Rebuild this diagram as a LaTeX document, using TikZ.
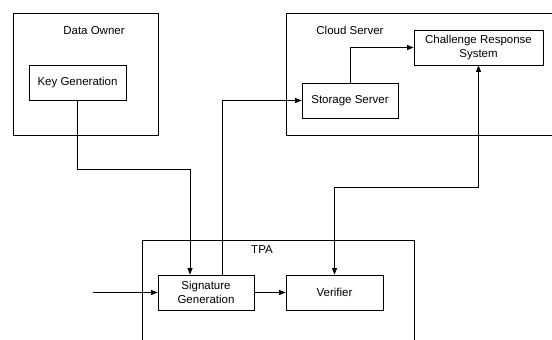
\documentclass[tikz,border=0pt]{standalone}
\usepackage{fontspec}
\setmainfont{Liberation Sans}
\usetikzlibrary{arrows.meta,calc}
\begin{document}
\begin{tikzpicture}[x=1pt,y=-1pt,
  every node/.style={font=\fontsize{11.5}{14.3}\selectfont},
  box/.style={draw, line width=0.8pt, minimum height=35pt, inner sep=1pt, align=center},
  frame/.style={draw, line width=0.8pt},
  conn/.style={draw, line width=0.8pt},
  arr/.style={conn, -{Triangle[length=6.5pt,width=5pt]}},
  darr/.style={conn, {Triangle[length=6.5pt,width=5pt]}-{Triangle[length=6.5pt,width=5pt]}},
  lbl/.style={inner sep=0pt}]
\useasboundingbox (0,0) rectangle (552,340);
% containers
\draw[frame] (13,13) rectangle (158,135);
\draw[frame] (552,13) -- (286,13) -- (286,135) -- (552,135);
\draw[frame] (142,340) -- (142,240) -- (414,240) -- (414,340);
% labels
\node[lbl] (lo) at (94,31) {Data Owner};
\node[lbl] (lc) at (350,30) {Cloud Server};
\node[lbl] (lt) at (262,250) {TPA};
% boxes
\node[box, minimum width=97pt] (kg) at (77.5,82.5) {Key Generation};
\node[box, minimum width=96pt] (ss) at (350,100.5) {Storage Server};
\node[box, minimum width=129pt] (ch) at (478.5,47.5) {Challenge Response\\System};
\node[box, minimum width=96pt] (sg) at (206,292.5) {Signature\\Generation};
\node[box, minimum width=97pt] (vf) at (334.5,292.5) {Verifier};
% helper coordinates
\coordinate (k1) at (190,169);
\coordinate (v1) at (0,187);
\coordinate (in) at (93,292.5);
% connectors
\draw[arr] (kg.south) |- (k1) -- (k1 |- sg.north);
\draw[arr] ($(sg.north)+(16,0)$) |- (ss.west);
\draw[arr] (ss.north) |- (ch.west);
\draw[darr] (ch.south) -- (ch.south |- v1) -| (vf.north);
\draw[arr] (in) -- (sg.west);
\draw[arr] (sg.east) -- (vf.west);
\end{tikzpicture}
\end{document}
